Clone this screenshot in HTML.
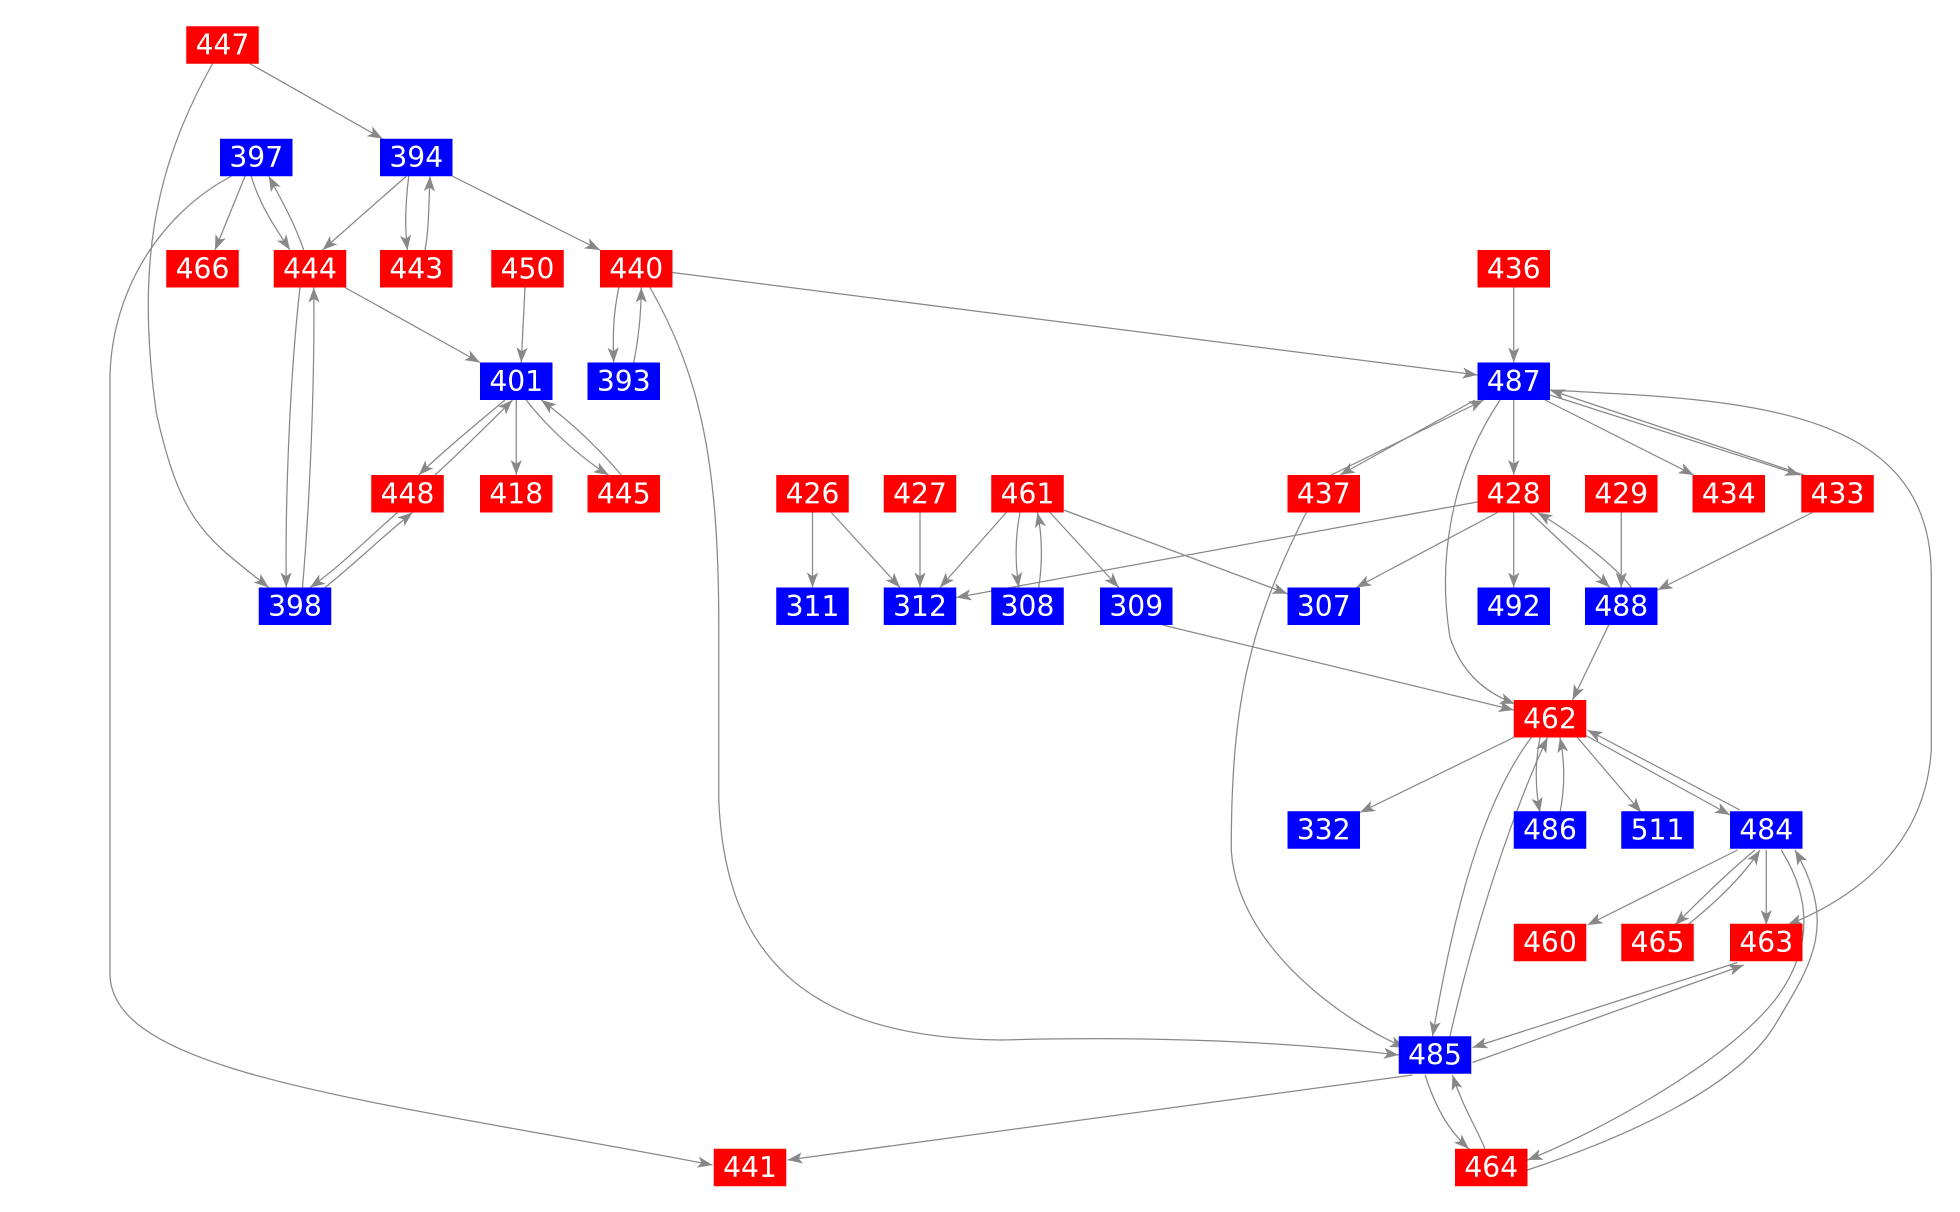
<!DOCTYPE html>
<html><head><meta charset="utf-8"><style>
html,body{margin:0;padding:0;background:#fff;width:1960px;height:1212px;overflow:hidden}
svg{display:block}
text{font-family:"DejaVu Sans","Liberation Sans",sans-serif;font-size:22.5px;fill:#fff;text-anchor:middle;dominant-baseline:central}
path{fill:none;stroke:#888;stroke-width:1}
</style></head><body>
<svg width="1960" height="1212" viewBox="0 0 1568 969.6" xmlns="http://www.w3.org/2000/svg">
<defs><marker id="a" markerUnits="userSpaceOnUse" markerWidth="14" markerHeight="10" refX="12" refY="4.5" orient="auto"><path d="M0,0 L12,4.5 L0,9 L3,4.5 z" style="fill:#888;stroke:none"/></marker></defs>
<g marker-end="url(#a)">
<path d="M200,51 L306,111"/>
<path d="M170,51 C120,140 110,220 125,330 C145,420 165,430 215,470"/>
<path d="M196,141 L172,200"/>
<path d="M201,141 C208,165 222,185 232,200"/>
<path d="M243,200 C236,180 228,165 215,141"/>
<path d="M185,141 C130,170 90,230 88,300 L88,780 C90,860 300,880 570,932"/>
<path d="M325,141 L258,200"/>
<path d="M327,141 C324,165 324,185 326,200"/>
<path d="M340,200 C343,185 343,165 344,141"/>
<path d="M362,141 L480,200"/>
<path d="M276,230 L384,290"/>
<path d="M240,230 C232,300 228,400 229,470"/>
<path d="M242,470 C248,400 252,300 251,230"/>
<path d="M420,230 L417,290"/>
<path d="M495,230 C491,250 490,265 491,290"/>
<path d="M507,290 C511,270 513,250 513,230"/>
<path d="M538,218 L1182,300"/>
<path d="M520,230 C560,300 575,370 575,500 L575,640 C580,760 640,830 800,832 C950,828 1050,836 1119,844"/>
<path d="M404,320 C380,340 350,365 335,380"/>
<path d="M348,380 C370,360 390,340 410,320"/>
<path d="M413,320 L413,380"/>
<path d="M421,320 C440,345 470,370 487,380"/>
<path d="M497,380 C480,360 460,340 433,320"/>
<path d="M318,410 C295,430 270,455 248,470"/>
<path d="M260,470 C285,450 305,430 330,410"/>
<path d="M1211,230 L1211,290"/>
<path d="M1180,320 L1072,380"/>
<path d="M1065,380 L1187,320"/>
<path d="M1211,320 L1211,380"/>
<path d="M1236,320 L1355,380"/>
<path d="M1240,316 L1440,380"/>
<path d="M1443,380 L1240,312"/>
<path d="M1240,312 C1380,320 1545,320 1545,460 L1545,600 C1540,680 1480,720 1430,740"/>
<path d="M1200,320 C1160,380 1150,450 1160,510 C1170,540 1190,555 1212,563"/>
<path d="M1045,410 C1000,500 985,560 985,680 C990,760 1080,820 1124,838"/>
<path d="M1185,401 L765,478"/>
<path d="M1198,410 L1085,470"/>
<path d="M1211,410 L1211,470"/>
<path d="M1224,410 L1288,470"/>
<path d="M1305,470 C1290,450 1255,425 1230,410"/>
<path d="M1297,410 L1297,470"/>
<path d="M1450,410 L1326,472"/>
<path d="M650,410 L650,470"/>
<path d="M665,410 L720,470"/>
<path d="M736,410 L736,470"/>
<path d="M805,410 L752,470"/>
<path d="M816,410 C812,430 812,450 815,470"/>
<path d="M831,470 C834,450 834,430 830,410"/>
<path d="M840,410 L895,470"/>
<path d="M851,408 L1030,475"/>
<path d="M930,500 L1211,568"/>
<path d="M1287,500 L1258,560"/>
<path d="M1211,590 L1088,650"/>
<path d="M1232,590 C1228,610 1228,630 1232,650"/>
<path d="M1248,650 C1252,630 1252,610 1248,590"/>
<path d="M1262,590 L1313,650"/>
<path d="M1268,588 L1384,652"/>
<path d="M1392,648 L1270,584"/>
<path d="M1225,590 C1180,650 1160,750 1146,829"/>
<path d="M1160,829 C1180,740 1210,650 1238,590"/>
<path d="M1390,680 L1270,740"/>
<path d="M1404,680 C1380,700 1360,720 1340,740"/>
<path d="M1350,740 C1375,720 1395,700 1408,680"/>
<path d="M1413,680 L1413,740"/>
<path d="M1425,680 C1450,720 1450,760 1420,800 C1380,850 1280,905 1222,928"/>
<path d="M1222,936 C1300,910 1390,870 1420,820 C1450,770 1470,740 1436,680"/>
<path d="M1390,770 L1178,838"/>
<path d="M1178,850 L1395,772"/>
<path d="M1140,860 C1150,890 1160,905 1175,919"/>
<path d="M1188,919 C1180,900 1170,885 1162,860"/>
<path d="M1130,860 L630,928"/>
</g>
<g>
<rect x="149" y="21" width="58" height="30" fill="#f00"/><text x="178" y="36">447</text>
<rect x="176" y="111" width="58" height="30" fill="#00f"/><text x="205" y="126">397</text>
<rect x="304" y="111" width="58" height="30" fill="#00f"/><text x="333" y="126">394</text>
<rect x="133" y="200" width="58" height="30" fill="#f00"/><text x="162" y="215">466</text>
<rect x="219" y="200" width="58" height="30" fill="#f00"/><text x="248" y="215">444</text>
<rect x="304" y="200" width="58" height="30" fill="#f00"/><text x="333" y="215">443</text>
<rect x="393" y="200" width="58" height="30" fill="#f00"/><text x="422" y="215">450</text>
<rect x="480" y="200" width="58" height="30" fill="#f00"/><text x="509" y="215">440</text>
<rect x="1182" y="200" width="58" height="30" fill="#f00"/><text x="1211" y="215">436</text>
<rect x="384" y="290" width="58" height="30" fill="#00f"/><text x="413" y="305">401</text>
<rect x="470" y="290" width="58" height="30" fill="#00f"/><text x="499" y="305">393</text>
<rect x="1182" y="290" width="58" height="30" fill="#00f"/><text x="1211" y="305">487</text>
<rect x="297" y="380" width="58" height="30" fill="#f00"/><text x="326" y="395">448</text>
<rect x="384" y="380" width="58" height="30" fill="#f00"/><text x="413" y="395">418</text>
<rect x="470" y="380" width="58" height="30" fill="#f00"/><text x="499" y="395">445</text>
<rect x="621" y="380" width="58" height="30" fill="#f00"/><text x="650" y="395">426</text>
<rect x="707" y="380" width="58" height="30" fill="#f00"/><text x="736" y="395">427</text>
<rect x="793" y="380" width="58" height="30" fill="#f00"/><text x="822" y="395">461</text>
<rect x="1030" y="380" width="58" height="30" fill="#f00"/><text x="1059" y="395">437</text>
<rect x="1182" y="380" width="58" height="30" fill="#f00"/><text x="1211" y="395">428</text>
<rect x="1268" y="380" width="58" height="30" fill="#f00"/><text x="1297" y="395">429</text>
<rect x="1354" y="380" width="58" height="30" fill="#f00"/><text x="1383" y="395">434</text>
<rect x="1441" y="380" width="58" height="30" fill="#f00"/><text x="1470" y="395">433</text>
<rect x="207" y="470" width="58" height="30" fill="#00f"/><text x="236" y="485">398</text>
<rect x="621" y="470" width="58" height="30" fill="#00f"/><text x="650" y="485">311</text>
<rect x="707" y="470" width="58" height="30" fill="#00f"/><text x="736" y="485">312</text>
<rect x="793" y="470" width="58" height="30" fill="#00f"/><text x="822" y="485">308</text>
<rect x="880" y="470" width="58" height="30" fill="#00f"/><text x="909" y="485">309</text>
<rect x="1030" y="470" width="58" height="30" fill="#00f"/><text x="1059" y="485">307</text>
<rect x="1182" y="470" width="58" height="30" fill="#00f"/><text x="1211" y="485">492</text>
<rect x="1268" y="470" width="58" height="30" fill="#00f"/><text x="1297" y="485">488</text>
<rect x="1211" y="560" width="58" height="30" fill="#f00"/><text x="1240" y="575">462</text>
<rect x="1030" y="649" width="58" height="30" fill="#00f"/><text x="1059" y="664">332</text>
<rect x="1211" y="649" width="58" height="30" fill="#00f"/><text x="1240" y="664">486</text>
<rect x="1297" y="649" width="58" height="30" fill="#00f"/><text x="1326" y="664">511</text>
<rect x="1384" y="649" width="58" height="30" fill="#00f"/><text x="1413" y="664">484</text>
<rect x="1211" y="739" width="58" height="30" fill="#f00"/><text x="1240" y="754">460</text>
<rect x="1297" y="739" width="58" height="30" fill="#f00"/><text x="1326" y="754">465</text>
<rect x="1384" y="739" width="58" height="30" fill="#f00"/><text x="1413" y="754">463</text>
<rect x="1119" y="829" width="58" height="30" fill="#00f"/><text x="1148" y="844">485</text>
<rect x="571" y="919" width="58" height="30" fill="#f00"/><text x="600" y="934">441</text>
<rect x="1164" y="919" width="58" height="30" fill="#f00"/><text x="1193" y="934">464</text>
</g>
</svg>
</body></html>
